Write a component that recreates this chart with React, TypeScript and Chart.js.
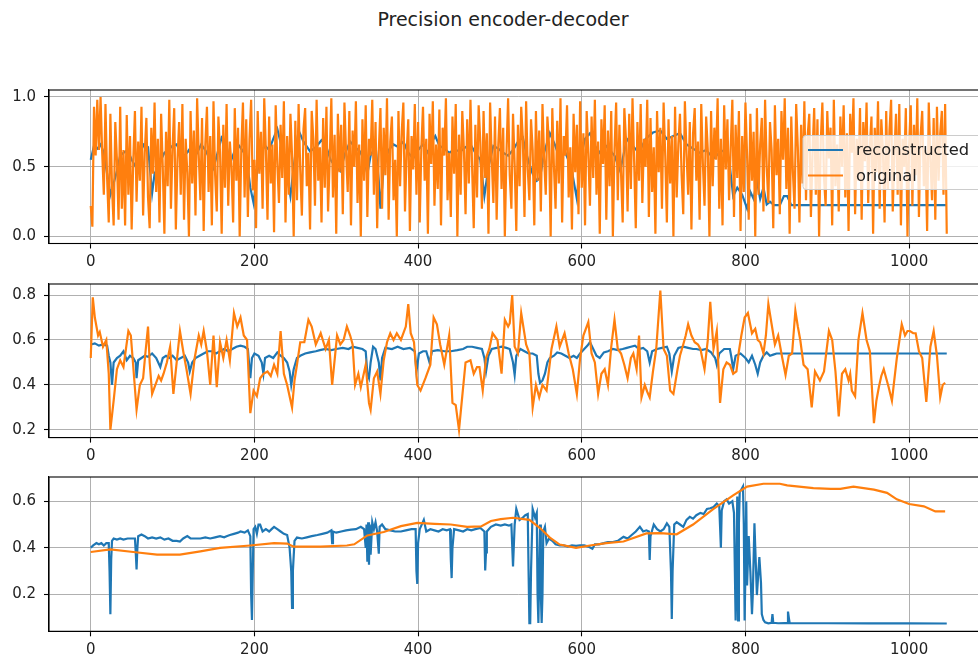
import React, { useEffect, useRef } from "react";
import { Chart, registerables } from "chart.js";

Chart.register(...registerables);

const FONT = "'DejaVu Sans', 'Noto Sans', sans-serif";
const BLUE = "#1f77b4";
const ORANGE = "#ff7f0e";
const TEXT = "#222222";

const title = "Precision encoder-decoder";
const seriesLabels = ["reconstructed", "original"];

const xTicks = [0, 200, 400, 600, 800, 1000];
const topYTicks = [0.0, 0.5, 1.0];
const midYTicks = [0.2, 0.4, 0.6, 0.8];
const bottomYTicks = [0.2, 0.4, 0.6];

// Top panel, original: one value every 2 steps starting at 0
const topOriginalStep = 2;
const topOriginal = [
  0.22, 0.07, 0.93, 0.58, 0.98, 0.62, 1.0, 0.6, 0.3, 0.95, 0.42, 0.1, 0.88, 0.35, 0.08, 0.82, 0.55, 0.12, 0.93, 0.2,
  0.62, 0.08, 0.87, 0.3, 0.72, 0.05, 0.55, 0.9, 0.25, 0.68, 0.4, 0.93, 0.15, 0.6, 0.85, 0.28, 0.06, 0.78, 0.45, 0.96,
  0.32, 0.7, 0.1, 0.88, 0.5, 0.02, 0.75, 0.36, 0.98, 0.2, 0.64, 0.92, 0.05, 0.55, 0.82, 0.3, 0.95, 0.12, 0.7, 0.46,
  0.0, 0.9, 0.38, 0.76, 0.15, 0.99, 0.58, 0.26, 0.85, 0.04, 0.66, 0.93, 0.32, 0.72, 0.08, 0.97, 0.44, 0.18, 0.86, 0.6,
  0.02, 0.8, 0.35, 0.95, 0.22, 0.68, 0.5, 0.1, 0.92, 0.4, 0.78, 0.0, 0.63, 0.96, 0.28, 0.84, 0.14, 0.7, 0.98, 0.33,
  0.55, 0.06, 0.9, 0.45, 0.75, 0.2, 0.99, 0.62, 0.12, 0.86, 0.38, 0.66, 0.03, 0.94, 0.52, 0.24, 0.8, 0.42, 0.97, 0.1,
  0.72, 0.3, 0.88, 0.58, 0.0, 0.83, 0.26, 0.95, 0.48, 0.15, 0.77, 0.92, 0.36, 0.6, 0.05, 0.9, 0.7, 0.22, 0.98, 0.4,
  0.64, 0.1, 0.85, 0.35, 0.93, 0.18, 0.55, 0.99, 0.28, 0.73, 0.02, 0.88, 0.46, 0.8, 0.16, 0.96, 0.6, 0.32, 0.9, 0.08,
  0.76, 0.5, 0.97, 0.24, 0.66, 0.0, 0.84, 0.4, 0.94, 0.14, 0.7, 0.58, 0.98, 0.3, 0.82, 0.06, 0.62, 0.92, 0.2, 0.78,
  0.44, 0.99, 0.12, 0.68, 0.86, 0.26, 0.55, 0.0, 0.9, 0.36, 0.75, 0.96, 0.18, 0.6, 0.84, 0.04, 0.72, 0.48, 0.95, 0.3,
  0.82, 0.1, 0.64, 0.93, 0.4, 0.7, 0.02, 0.88, 0.52, 0.97, 0.22, 0.66, 0.34, 0.91, 0.08, 0.78, 0.58, 0.99, 0.26, 0.6,
  0.14, 0.86, 0.45, 0.95, 0.0, 0.73, 0.3, 0.9, 0.62, 0.16, 0.84, 0.38, 0.98, 0.5, 0.06, 0.8, 0.28, 0.94, 0.68, 0.2,
  0.9, 0.42, 0.74, 0.02, 0.96, 0.56, 0.24, 0.86, 0.12, 0.66, 0.92, 0.34, 0.78, 0.0, 0.6, 0.99, 0.44, 0.2, 0.88, 0.52,
  0.04, 0.8, 0.36, 0.93, 0.7, 0.14, 0.97, 0.48, 0.26, 0.84, 0.62, 0.08, 0.9, 0.4, 0.76, 0.18, 0.95, 0.56, 0.3, 0.86,
  0.66, 0.0, 0.92, 0.5, 0.2, 0.83, 0.38, 0.99, 0.1, 0.72, 0.58, 0.94, 0.28, 0.64, 0.05, 0.88, 0.46, 0.8, 0.16, 0.97,
  0.35, 0.74, 0.08, 0.9, 0.6, 0.22, 0.86, 0.42, 0.98, 0.3, 0.68, 0.02, 0.84, 0.52, 0.94, 0.12, 0.76, 0.36, 0.9, 0.0,
  0.62, 0.96, 0.26, 0.8, 0.45, 0.1, 0.92, 0.7, 0.18, 0.88, 0.34, 0.99, 0.54, 0.06, 0.82, 0.4, 0.95, 0.24, 0.7, 0.5,
  0.98, 0.14, 0.85, 0.32, 0.64, 0.02, 0.9, 0.46, 0.78, 0.2, 0.96, 0.58, 0.1, 0.84, 0.38, 0.72, 0.0, 0.93, 0.28, 0.66,
  0.88, 0.44, 0.16, 0.97, 0.6, 0.3, 0.82, 0.05, 0.74, 0.92, 0.4, 0.68, 0.12, 0.95, 0.52, 0.22, 0.86, 0.62, 0.0, 0.9,
  0.36, 0.78, 0.55, 0.99, 0.2, 0.7, 0.08, 0.94, 0.48, 0.84, 0.26, 0.64, 0.98, 0.14, 0.8, 0.42, 0.9, 0.04, 0.72, 0.32,
  0.96, 0.58, 0.12, 0.88, 0.4, 0.75, 0.0, 0.92, 0.3, 0.66, 0.85, 0.18, 0.98, 0.5, 0.24, 0.82, 0.62, 0.06, 0.94, 0.44,
  0.7, 0.16, 0.9, 0.55, 0.99, 0.34, 0.78, 0.02, 0.86, 0.46, 0.2, 0.95, 0.64, 0.1, 0.8, 0.38, 0.97, 0.26, 0.72, 0.88,
  0.14, 0.6, 0.92, 0.3, 0.84, 0.0, 0.68, 0.96, 0.42, 0.22, 0.9, 0.56, 0.78, 0.08, 0.98, 0.36, 0.66, 0.18, 0.86, 0.5,
  0.94, 0.28, 0.74, 0.04, 0.88, 0.6, 0.99, 0.16, 0.7, 0.4, 0.92, 0.12, 0.82, 0.54, 0.96, 0.24, 0.64, 0.86, 0.02, 0.78,
  0.46, 0.97, 0.2, 0.84, 0.62, 0.1, 0.9, 0.34, 0.76, 0.98, 0.18, 0.6, 0.88, 0.3, 0.95, 0.08, 0.7, 0.5, 0.92, 0.0,
  0.66, 0.94, 0.22, 0.8, 0.44, 0.99, 0.14, 0.72, 0.9, 0.36, 0.62, 0.04, 0.96, 0.56, 0.26, 0.85, 0.12, 0.93, 0.4, 0.74,
  0.9, 0.3, 0.95, 0.02,
];

const topReconstructed: [number, number][] = [
  [0, 0.55], [4, 0.65], [8, 0.63], [12, 0.66], [16, 0.6], [20, 0.45], [24, 0.3], [28, 0.38], [32, 0.47], [36, 0.58],
  [40, 0.6], [45, 0.62], [50, 0.55], [55, 0.5], [60, 0.6], [65, 0.66], [70, 0.64], [75, 0.31], [78, 0.45], [82, 0.5],
  [86, 0.55], [90, 0.6], [95, 0.62], [100, 0.65], [105, 0.66], [110, 0.6], [115, 0.58], [120, 0.62], [125, 0.55], [130, 0.6],
  [135, 0.66], [140, 0.62], [145, 0.56], [150, 0.49], [155, 0.6], [160, 0.71], [165, 0.68], [170, 0.52], [175, 0.6], [180, 0.66],
  [185, 0.62], [190, 0.58], [195, 0.35], [199, 0.24], [203, 0.45], [208, 0.6], [213, 0.65], [218, 0.62], [223, 0.7], [228, 0.77],
  [233, 0.65], [238, 0.5], [244, 0.29], [248, 0.5], [254, 0.76], [260, 0.68], [268, 0.61], [275, 0.64], [282, 0.69], [287, 0.66],
  [293, 0.55], [299, 0.5], [305, 0.47], [311, 0.6], [317, 0.68], [323, 0.64], [329, 0.61], [334, 0.55], [338, 0.45], [342, 0.58],
  [348, 0.65], [352, 0.4], [354, 0.2], [358, 0.5], [364, 0.62], [370, 0.66], [376, 0.64], [382, 0.68], [388, 0.6], [394, 0.56],
  [400, 0.62], [406, 0.66], [412, 0.6], [417, 0.68], [421, 0.72], [426, 0.65], [432, 0.63], [438, 0.6], [444, 0.62], [452, 0.61],
  [458, 0.64], [464, 0.66], [470, 0.6], [476, 0.55], [481, 0.29], [486, 0.5], [492, 0.65], [498, 0.63], [504, 0.6], [510, 0.58],
  [516, 0.62], [522, 0.68], [528, 0.71], [532, 0.6], [536, 0.52], [540, 0.45], [545, 0.4], [549, 0.42], [554, 0.6], [561, 0.74],
  [567, 0.66], [573, 0.56], [580, 0.6], [587, 0.5], [594, 0.27], [598, 0.55], [604, 0.7], [610, 0.74], [616, 0.65], [622, 0.6],
  [628, 0.66], [634, 0.62], [640, 0.58], [647, 0.47], [655, 0.7], [662, 0.65], [670, 0.6], [678, 0.7], [687, 0.745], [696, 0.76],
  [704, 0.7], [712, 0.72], [720, 0.74], [728, 0.66], [736, 0.63], [744, 0.6], [752, 0.62], [761, 0.56], [768, 0.6], [777, 0.63],
  [781, 0.5], [785, 0.29], [790, 0.35], [796, 0.3], [802, 0.2], [806, 0.32], [810, 0.27], [814, 0.4], [818, 0.27], [822, 0.35],
  [826, 0.23], [830, 0.25], [835, 0.225], [842, 0.225], [847, 0.29], [851, 0.29], [856, 0.225], [870, 0.225], [900, 0.225], [950, 0.225],
  [1000, 0.225], [1046, 0.225],
];

const midOriginal: [number, number][] = [
  [0, 0.52], [2.5, 0.79], [5, 0.7], [9, 0.62], [11, 0.635], [15, 0.57], [19, 0.6], [22, 0.45], [24, 0.2], [28, 0.33],
  [32, 0.47], [36, 0.51], [40, 0.48], [43, 0.56], [46, 0.64], [49, 0.62], [52, 0.48], [56, 0.29], [60, 0.4], [64, 0.43],
  [67, 0.55], [70, 0.66], [72, 0.5], [75, 0.36], [79, 0.4], [83, 0.44], [86, 0.42], [89, 0.45], [93, 0.5], [97, 0.57],
  [101, 0.36], [105, 0.5], [109, 0.64], [113, 0.55], [117, 0.47], [122, 0.36], [127, 0.52], [132, 0.62], [135, 0.58], [138, 0.64],
  [142, 0.55], [146, 0.4], [150, 0.62], [154, 0.39], [158, 0.59], [162, 0.52], [166, 0.6], [170, 0.51], [175, 0.72], [179, 0.66],
  [183, 0.7], [187, 0.62], [191, 0.6], [195, 0.275], [199, 0.375], [203, 0.35], [207, 0.43], [211, 0.45], [216, 0.46], [220, 0.44],
  [224, 0.49], [228, 0.45], [232, 0.64], [236, 0.45], [240, 0.4], [246, 0.3], [249, 0.42], [252, 0.49], [256, 0.59], [261, 0.59],
  [266, 0.69], [270, 0.66], [275, 0.58], [281, 0.63], [287, 0.56], [291, 0.6], [295, 0.4], [301, 0.62], [305, 0.58], [309, 0.6],
  [313, 0.66], [317, 0.62], [320, 0.58], [323, 0.4], [327, 0.45], [330, 0.39], [336, 0.49], [340, 0.32], [342, 0.29], [346, 0.43],
  [350, 0.46], [354, 0.36], [358, 0.51], [362, 0.59], [366, 0.63], [370, 0.6], [374, 0.63], [379, 0.6], [385, 0.66], [388, 0.76],
  [391, 0.63], [395, 0.59], [399, 0.4], [403, 0.375], [409, 0.43], [415, 0.49], [419, 0.7], [423, 0.67], [427, 0.58], [432, 0.49],
  [438, 0.62], [442, 0.32], [446, 0.31], [450, 0.2], [454, 0.35], [458, 0.5], [464, 0.51], [468, 0.45], [472, 0.48], [475, 0.48],
  [479, 0.375], [483, 0.52], [487, 0.56], [491, 0.63], [497, 0.6], [502, 0.45], [506, 0.69], [510, 0.66], [512, 0.675], [515, 0.8],
  [518, 0.57], [522, 0.54], [526, 0.72], [532, 0.58], [536, 0.54], [540, 0.3], [544, 0.4], [548, 0.345], [552, 0.4], [557, 0.375],
  [563, 0.56], [569, 0.66], [573, 0.57], [579, 0.63], [584, 0.54], [589, 0.47], [594, 0.36], [598, 0.52], [602, 0.62], [608, 0.68],
  [612, 0.54], [616, 0.5], [620, 0.36], [624, 0.45], [628, 0.47], [632, 0.4], [636, 0.57], [640, 0.69], [644, 0.56], [648, 0.54],
  [652, 0.49], [656, 0.43], [660, 0.52], [663, 0.54], [667, 0.47], [670, 0.62], [673, 0.345], [677, 0.4], [680, 0.37], [683, 0.345],
  [687, 0.46], [691, 0.56], [696, 0.82], [700, 0.56], [704, 0.53], [708, 0.375], [712, 0.36], [717, 0.47], [720, 0.53], [724, 0.58],
  [727, 0.62], [730, 0.67], [734, 0.62], [738, 0.59], [742, 0.58], [745, 0.56], [750, 0.47], [754, 0.6], [757, 0.77], [761, 0.56],
  [765, 0.64], [769, 0.32], [773, 0.47], [777, 0.5], [781, 0.49], [785, 0.45], [789, 0.46], [792, 0.55], [795, 0.62], [799, 0.7],
  [803, 0.72], [808, 0.63], [812, 0.65], [815, 0.6], [818, 0.59], [822, 0.54], [825, 0.62], [828, 0.76], [832, 0.67], [836, 0.58],
  [840, 0.62], [845, 0.52], [849, 0.445], [853, 0.53], [857, 0.54], [861, 0.73], [864, 0.66], [867, 0.6], [871, 0.49], [876, 0.47],
  [881, 0.3], [885, 0.46], [888, 0.44], [891, 0.42], [896, 0.46], [902, 0.64], [906, 0.6], [910, 0.46], [914, 0.26], [918, 0.45],
  [922, 0.47], [926, 0.42], [928, 0.45], [930, 0.375], [934, 0.35], [938, 0.6], [943, 0.72], [948, 0.6], [952, 0.55], [957, 0.23],
  [960, 0.33], [963, 0.39], [966, 0.44], [969, 0.47], [972, 0.43], [975, 0.39], [979, 0.33], [985, 0.52], [991, 0.67], [995, 0.62],
  [998, 0.64], [1001, 0.64], [1005, 0.63], [1008, 0.63], [1012, 0.55], [1016, 0.52], [1021, 0.325], [1026, 0.57], [1030, 0.64], [1034, 0.53],
  [1038, 0.345], [1041, 0.4], [1044, 0.41],
];

const midReconstructed: [number, number][] = [
  [0, 0.58], [5, 0.585], [10, 0.575], [15, 0.58], [20, 0.575], [22, 0.53], [24, 0.5], [26, 0.4], [28, 0.5], [32, 0.52],
  [36, 0.53], [40, 0.55], [44, 0.51], [48, 0.53], [52, 0.52], [55, 0.5], [56, 0.43], [58, 0.51], [62, 0.52], [66, 0.53],
  [70, 0.525], [75, 0.54], [80, 0.52], [85, 0.48], [88, 0.52], [92, 0.53], [96, 0.52], [100, 0.53], [105, 0.51], [110, 0.52],
  [115, 0.53], [119, 0.5], [121, 0.46], [124, 0.5], [128, 0.52], [133, 0.53], [138, 0.54], [143, 0.55], [148, 0.55], [153, 0.54],
  [158, 0.55], [163, 0.56], [168, 0.55], [173, 0.56], [178, 0.57], [183, 0.575], [188, 0.57], [192, 0.56], [195, 0.43], [197, 0.52],
  [200, 0.54], [205, 0.53], [209, 0.5], [211, 0.45], [213, 0.52], [218, 0.53], [223, 0.52], [228, 0.545], [232, 0.53], [236, 0.52],
  [240, 0.5], [243, 0.46], [245, 0.4], [248, 0.47], [252, 0.52], [256, 0.53], [262, 0.54], [268, 0.545], [275, 0.55], [280, 0.555],
  [287, 0.56], [294, 0.555], [300, 0.56], [308, 0.565], [315, 0.56], [320, 0.57], [326, 0.565], [332, 0.56], [336, 0.55], [338, 0.45],
  [340, 0.43], [342, 0.5], [345, 0.57], [348, 0.56], [352, 0.5], [354, 0.42], [356, 0.52], [360, 0.565], [368, 0.56], [375, 0.57],
  [382, 0.56], [390, 0.565], [396, 0.55], [398, 0.46], [401, 0.54], [406, 0.55], [410, 0.55], [414, 0.5], [417, 0.55], [424, 0.555],
  [432, 0.55], [440, 0.55], [448, 0.555], [455, 0.56], [460, 0.57], [466, 0.57], [472, 0.565], [478, 0.56], [481, 0.52], [483, 0.46],
  [486, 0.53], [490, 0.56], [496, 0.565], [502, 0.57], [508, 0.565], [512, 0.56], [516, 0.5], [518, 0.445], [520, 0.53], [525, 0.56],
  [530, 0.55], [535, 0.54], [540, 0.54], [545, 0.53], [547, 0.45], [549, 0.41], [552, 0.42], [555, 0.45], [558, 0.5], [561, 0.52],
  [566, 0.53], [570, 0.545], [575, 0.54], [580, 0.53], [585, 0.52], [590, 0.53], [594, 0.52], [598, 0.54], [603, 0.56], [607, 0.575],
  [610, 0.59], [614, 0.56], [618, 0.53], [622, 0.52], [627, 0.545], [632, 0.55], [638, 0.56], [644, 0.555], [650, 0.56], [655, 0.565],
  [660, 0.57], [665, 0.575], [670, 0.56], [675, 0.565], [680, 0.55], [683, 0.5], [686, 0.55], [692, 0.56], [698, 0.565], [704, 0.57],
  [707, 0.54], [710, 0.46], [713, 0.53], [718, 0.565], [724, 0.57], [730, 0.565], [736, 0.56], [740, 0.56], [746, 0.555], [752, 0.56],
  [758, 0.545], [763, 0.52], [765, 0.49], [768, 0.54], [774, 0.56], [781, 0.56], [783, 0.52], [785, 0.47], [788, 0.53], [794, 0.54],
  [800, 0.52], [804, 0.5], [808, 0.53], [812, 0.49], [815, 0.45], [818, 0.5], [822, 0.53], [826, 0.545], [830, 0.53], [834, 0.535],
  [838, 0.54], [845, 0.54], [1046, 0.54],
];

const bottomOriginal: [number, number][] = [
  [0, 0.382], [24, 0.393], [52, 0.382], [81, 0.371], [109, 0.371], [134, 0.385], [158, 0.4], [195, 0.41], [224, 0.42], [240, 0.418],
  [248, 0.405], [281, 0.405], [313, 0.41], [322, 0.415], [338, 0.453], [358, 0.468], [379, 0.493], [399, 0.507], [420, 0.503], [440, 0.5],
  [460, 0.49], [477, 0.492], [489, 0.515], [501, 0.523], [516, 0.529], [536, 0.52], [549, 0.485], [561, 0.444], [573, 0.414], [593, 0.4],
  [610, 0.41], [630, 0.42], [651, 0.427], [679, 0.462], [696, 0.463], [716, 0.458], [736, 0.5], [761, 0.567], [785, 0.625], [802, 0.663],
  [822, 0.675], [842, 0.675], [851, 0.668], [883, 0.656], [904, 0.653], [916, 0.653], [932, 0.663], [957, 0.65], [973, 0.636], [985, 0.608],
  [1000, 0.588], [1018, 0.578], [1032, 0.556], [1044, 0.556],
];

const bottomReconstructed: [number, number][] = [
  [0, 0.4], [3, 0.41], [7, 0.42], [10, 0.415], [13, 0.42], [16, 0.41], [19, 0.42], [22, 0.42], [23, 0.3], [24, 0.115],
  [25, 0.35], [26, 0.43], [28, 0.44], [32, 0.435], [36, 0.44], [40, 0.435], [45, 0.44], [50, 0.44], [54, 0.44], [55, 0.38],
  [56, 0.307], [57, 0.4], [58, 0.45], [62, 0.457], [66, 0.45], [70, 0.44], [75, 0.445], [80, 0.44], [85, 0.445], [90, 0.435],
  [95, 0.44], [100, 0.43], [105, 0.43], [109, 0.427], [113, 0.44], [118, 0.45], [122, 0.44], [128, 0.44], [134, 0.44], [140, 0.445],
  [146, 0.44], [152, 0.445], [158, 0.45], [163, 0.445], [166, 0.45], [170, 0.455], [175, 0.46], [180, 0.465], [183, 0.47], [188, 0.465],
  [192, 0.475], [195, 0.45], [196, 0.2], [197, 0.09], [198, 0.3], [199, 0.48], [201, 0.49], [203, 0.46], [205, 0.5], [207, 0.5],
  [210, 0.47], [214, 0.48], [218, 0.47], [221, 0.48], [224, 0.49], [228, 0.48], [232, 0.47], [236, 0.46], [240, 0.455], [243, 0.4],
  [244, 0.35], [245, 0.3], [246, 0.142], [247, 0.3], [249, 0.43], [252, 0.444], [258, 0.44], [264, 0.445], [270, 0.45], [277, 0.455],
  [283, 0.46], [289, 0.465], [294, 0.475], [295, 0.42], [296, 0.47], [300, 0.465], [306, 0.47], [312, 0.475], [318, 0.478], [324, 0.48],
  [330, 0.49], [334, 0.48], [336, 0.4], [337, 0.5], [338, 0.34], [339, 0.51], [340, 0.327], [341, 0.5], [342, 0.37], [344, 0.51],
  [346, 0.48], [348, 0.51], [350, 0.47], [352, 0.375], [353, 0.49], [356, 0.5], [360, 0.48], [366, 0.475], [372, 0.47], [379, 0.47],
  [385, 0.475], [392, 0.48], [397, 0.48], [398, 0.3], [399, 0.245], [400, 0.42], [402, 0.48], [407, 0.52], [410, 0.47], [415, 0.48],
  [420, 0.475], [425, 0.47], [430, 0.48], [435, 0.475], [439, 0.48], [440, 0.35], [441, 0.27], [442, 0.4], [444, 0.48], [450, 0.475],
  [455, 0.47], [460, 0.48], [465, 0.475], [470, 0.48], [476, 0.485], [481, 0.47], [482, 0.303], [483, 0.38], [484, 0.47], [489, 0.49],
  [495, 0.5], [501, 0.495], [506, 0.5], [511, 0.495], [514, 0.5], [516, 0.32], [518, 0.5], [520, 0.567], [524, 0.52], [528, 0.53],
  [531, 0.54], [534, 0.545], [535, 0.3], [536, 0.077], [537, 0.077], [538, 0.3], [540, 0.567], [543, 0.53], [545, 0.55], [546, 0.2],
  [547, 0.077], [548, 0.3], [549, 0.5], [550, 0.2], [551, 0.077], [552, 0.2], [553, 0.47], [555, 0.49], [557, 0.42], [560, 0.44],
  [564, 0.43], [568, 0.415], [573, 0.41], [578, 0.41], [583, 0.405], [588, 0.41], [593, 0.408], [598, 0.41], [603, 0.41], [608, 0.405],
  [613, 0.396], [616, 0.415], [621, 0.415], [627, 0.42], [632, 0.425], [638, 0.425], [644, 0.43], [651, 0.447], [656, 0.44], [661, 0.455],
  [666, 0.47], [671, 0.49], [675, 0.47], [679, 0.475], [682, 0.47], [683, 0.348], [684, 0.45], [688, 0.5], [692, 0.48], [696, 0.47],
  [700, 0.48], [704, 0.505], [707, 0.49], [709, 0.3], [710, 0.094], [711, 0.3], [713, 0.5], [716, 0.51], [720, 0.5], [724, 0.49],
  [728, 0.52], [732, 0.533], [736, 0.525], [740, 0.54], [745, 0.55], [749, 0.545], [753, 0.567], [757, 0.57], [761, 0.575], [765, 0.59],
  [768, 0.58], [770, 0.4], [771, 0.56], [774, 0.6], [777, 0.608], [780, 0.59], [784, 0.6], [786, 0.55], [788, 0.088], [789, 0.3],
  [790, 0.62], [791, 0.088], [792, 0.5], [793, 0.64], [795, 0.65], [797, 0.663], [798, 0.5], [799, 0.088], [800, 0.3], [801, 0.6],
  [802, 0.238], [804, 0.45], [806, 0.3], [808, 0.115], [809, 0.2], [811, 0.505], [812, 0.4], [814, 0.197], [815, 0.25], [817, 0.36],
  [819, 0.25], [820, 0.115], [822, 0.09], [824, 0.08], [828, 0.076], [832, 0.078], [833, 0.115], [834, 0.078], [840, 0.076], [848, 0.077],
  [851, 0.077], [852, 0.126], [853, 0.1], [854, 0.077], [870, 0.076], [900, 0.076], [950, 0.0755], [1000, 0.0755], [1046, 0.075],
];

const toPoints = (pairs: [number, number][]) => pairs.map(([x, y]) => ({ x, y }));
const stepPoints = (values: number[], step: number) => values.map((y, i) => ({ x: i * step, y }));

const X_MIN = -51;
const X_MAX = 1097;

const framePlugin = {
  id: "frame",
  afterDraw(chart: any) {
    const { ctx, chartArea } = chart;
    ctx.save();
    ctx.strokeStyle = "#000";
    ctx.lineWidth = 1.1;
    ctx.strokeRect(chartArea.left, chartArea.top, chartArea.right - chartArea.left, chartArea.bottom - chartArea.top);
    ctx.restore();
  },
};

function makeLegendPlugin(canvasTop: number) {
  return {
    id: "boxLegend",
    afterDraw(chart: any) {
      const ctx = chart.ctx;
      const x0 = 803, y0 = 135 - canvasTop, x1 = 982, y1 = 189 - canvasTop, r = 3;
      ctx.save();
      ctx.beginPath();
      ctx.moveTo(x0 + r, y0);
      ctx.lineTo(x1 - r, y0);
      ctx.arcTo(x1, y0, x1, y0 + r, r);
      ctx.lineTo(x1, y1 - r);
      ctx.arcTo(x1, y1, x1 - r, y1, r);
      ctx.lineTo(x0 + r, y1);
      ctx.arcTo(x0, y1, x0, y1 - r, r);
      ctx.lineTo(x0, y0 + r);
      ctx.arcTo(x0, y0, x0 + r, y0, r);
      ctx.closePath();
      ctx.fillStyle = "rgba(255,255,255,0.8)";
      ctx.fill();
      ctx.strokeStyle = "#cccccc";
      ctx.lineWidth = 1;
      ctx.stroke();
      const rows = [
        { label: seriesLabels[0], color: BLUE, y: 149.5 - canvasTop },
        { label: seriesLabels[1], color: ORANGE, y: 175 - canvasTop },
      ];
      ctx.font = `16.3px ${FONT}`;
      ctx.textBaseline = "middle";
      ctx.textAlign = "left";
      for (const row of rows) {
        ctx.beginPath();
        ctx.strokeStyle = row.color;
        ctx.lineWidth = 2.2;
        ctx.moveTo(808, row.y);
        ctx.lineTo(843, row.y);
        ctx.stroke();
        ctx.fillStyle = TEXT;
        ctx.fillText(row.label, 856, row.y + 1);
      }
      ctx.restore();
    },
  };
}

type PanelProps = {
  top: number;
  height: number;
  plotTop: number;
  plotBottom: number;
  yMin: number;
  yMax: number;
  yTicks: number[];
  recon: { x: number; y: number }[];
  orig: { x: number; y: number }[];
  legend?: boolean;
};

function Panel({ top, height, plotTop, plotBottom, yMin, yMax, yTicks, recon, orig, legend }: PanelProps) {
  const ref = useRef<HTMLCanvasElement>(null);
  useEffect(() => {
    if (!ref.current) return;
    const padTop = plotTop - top;
    const xAxisH = height - (plotBottom - top);
    const tickFont = { family: FONT, size: 15 };
    const plugins: any[] = [framePlugin];
    if (legend) plugins.push(makeLegendPlugin(top));
    const chart = new Chart(ref.current, {
      type: "line",
      data: {
        datasets: [
          // higher order is drawn first, so "reconstructed" sits underneath "original"
          { label: seriesLabels[0], data: recon, order: 1, borderColor: BLUE, backgroundColor: BLUE, borderWidth: 2.2, pointRadius: 0, fill: false, tension: 0 },
          { label: seriesLabels[1], data: orig, order: 0, borderColor: ORANGE, backgroundColor: ORANGE, borderWidth: 2.2, pointRadius: 0, fill: false, tension: 0 },
        ],
      },
      options: {
        responsive: false,
        animation: false,
        devicePixelRatio: 1,
        events: [],
        layout: { padding: { top: padTop, right: 11.5, left: 0, bottom: 0 } },
        plugins: { legend: { display: false }, tooltip: { enabled: false }, title: { display: false } },
        scales: {
          x: {
            type: "linear",
            min: X_MIN,
            max: X_MAX,
            afterBuildTicks: (s: any) => { s.ticks = xTicks.map((v) => ({ value: v })); },
            afterFit: (s: any) => { s.height = xAxisH; },
            grid: { color: "#b0b0b0", lineWidth: 1, tickLength: 5, tickColor: "#000", tickWidth: 1.1 },
            border: { display: true, color: "#000", width: 1.1 },
            ticks: { font: tickFont, color: TEXT, padding: 5, maxRotation: 0, autoSkip: false, callback: (v: any) => String(v) },
          },
          y: {
            type: "linear",
            min: yMin,
            max: yMax,
            afterBuildTicks: (s: any) => { s.ticks = yTicks.map((v) => ({ value: v })); },
            afterFit: (s: any) => { s.width = 49; },
            grid: { color: "#b0b0b0", lineWidth: 1, tickLength: 5, tickColor: "#000", tickWidth: 1.1 },
            border: { display: true, color: "#000", width: 1.1 },
            ticks: { font: tickFont, color: TEXT, padding: 8, autoSkip: false, callback: (v: any) => Number(v).toFixed(1) },
          },
        },
      } as any,
      plugins,
    });
    return () => chart.destroy();
  }, []);
  return (
    <canvas
      ref={ref}
      width={1000}
      height={height}
      style={{ position: "absolute", left: 0, top, width: 1000, height }}
    />
  );
}

export default function App() {
  return (
    <div style={{ position: "absolute", left: 0, top: 0, width: 978, height: 661, overflow: "hidden", background: "#fff" }}>
      <div
        style={{
          position: "absolute",
          left: 0,
          top: 10,
          width: 1006,
          textAlign: "center",
          fontFamily: FONT,
          fontSize: 19,
          lineHeight: "19px",
          color: TEXT,
          whiteSpace: "nowrap",
        }}
      >
        {title}
      </div>
      <Panel top={72.5} height={200} plotTop={82.5} plotBottom={243} yMin={-0.05} yMax={1.05} yTicks={topYTicks}
        recon={toPoints(topReconstructed)} orig={stepPoints(topOriginal, topOriginalStep)} legend />
      <Panel top={266.7} height={200} plotTop={276.7} plotBottom={437.3} yMin={0.166} yMax={0.849} yTicks={midYTicks}
        recon={toPoints(midReconstructed)} orig={toPoints(midOriginal)} />
      <Panel top={460} height={201} plotTop={470} plotBottom={631.3} yMin={0.0415} yMax={0.704} yTicks={bottomYTicks}
        recon={toPoints(bottomReconstructed)} orig={toPoints(bottomOriginal)} />
    </div>
  );
}
